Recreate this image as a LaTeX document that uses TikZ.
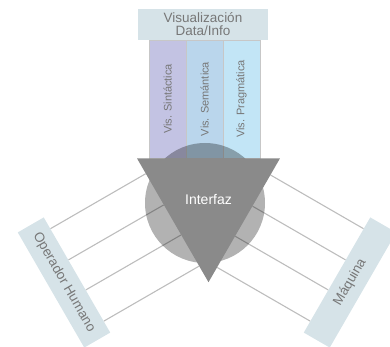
\documentclass[tikz,border=0pt]{standalone}
\usepackage{fontspec}
\setmainfont{Liberation Sans}
\usetikzlibrary{positioning, shapes.geometric, calc, backgrounds}
\definecolor{boxgray}{HTML}{D6E3E8}
\definecolor{sintcol}{HTML}{C3C3E3}
\definecolor{semcol}{HTML}{BAD6EC}
\definecolor{pragcol}{HTML}{C2E5F6}
\definecolor{labelgray}{HTML}{777777}
\definecolor{wiregray}{HTML}{BDBDBD}
\definecolor{trigray}{HTML}{8A8A8A}

\tikzset{
  infobox/.style={rectangle, fill=boxgray, inner sep=0pt, text=labelgray,
    align=center, font=\fontsize{13.5}{13}\selectfont},
  colbox/.style={rectangle, draw=black!22, thin, rotate=90, minimum width=118pt,
    minimum height=37pt, inner sep=0pt, text=labelgray, font=\fontsize{11}{12}\selectfont},
  wire/.style={draw=wiregray, line width=1.1pt}
}

\begin{document}
\begin{tikzpicture}[x=1pt, y=-1pt]
\useasboundingbox (0,0) rectangle (390,347);

% Visualization header and its three columns
\node[infobox, minimum width=130pt, minimum height=31pt] (vis) at (203,24.5)
      {Visualización\\Data/Info};
\node[colbox, fill=sintcol] (sint) at (167.5,99) {Vis. Sintáctica};
\node[colbox, fill=semcol] (sem) at (204.5,99) {Vis. Semántica};
\node[colbox, fill=pragcol] (prag) at (241.5,99) {Vis. Pragmática};

% Interface
\node[circle, fill=black, fill opacity=0.3, minimum size=120pt, inner sep=0pt] (ring) at (205,203) {};
\node[regular polygon, regular polygon sides=3, shape border rotate=180, fill=trigray,
      minimum size=165pt, inner sep=0pt, text=white,
      font=\fontsize{14}{14}\selectfont] (interfaz) at (208.5,199.7) {Interfaz};

% Side boxes
\node[infobox, rotate=-60, minimum width=133pt, minimum height=30pt] (operador) at (64,282.5)
      {Operador Humano};
\node[infobox, rotate=60, minimum width=133pt, minimum height=30pt] (maquina) at (350,282.5)
      {Máquina};

% Links to the interface
\coordinate (o1) at ($(operador.north west)!0.1!(operador.north east)$);
\coordinate (o2) at ($(operador.north west)!0.37!(operador.north east)$);
\coordinate (o3) at ($(operador.north west)!0.63!(operador.north east)$);
\coordinate (o4) at ($(operador.north west)!0.9!(operador.north east)$);
\coordinate (m1) at ($(maquina.north west)!0.1!(maquina.north east)$);
\coordinate (m2) at ($(maquina.north west)!0.37!(maquina.north east)$);
\coordinate (m3) at ($(maquina.north west)!0.63!(maquina.north east)$);
\coordinate (m4) at ($(maquina.north west)!0.9!(maquina.north east)$);
\coordinate (ol1) at ($(interfaz.corner 3)!(o1)!(interfaz.corner 1)$);
\coordinate (ol2) at ($(interfaz.corner 3)!(o2)!(interfaz.corner 1)$);
\coordinate (ol3) at ($(interfaz.corner 3)!(o3)!(interfaz.corner 1)$);
\coordinate (ol4) at ($(interfaz.corner 3)!(o4)!(interfaz.corner 1)$);
\coordinate (ml1) at ($(interfaz.corner 2)!(m1)!(interfaz.corner 1)$);
\coordinate (ml2) at ($(interfaz.corner 2)!(m2)!(interfaz.corner 1)$);
\coordinate (ml3) at ($(interfaz.corner 2)!(m3)!(interfaz.corner 1)$);
\coordinate (ml4) at ($(interfaz.corner 2)!(m4)!(interfaz.corner 1)$);
\begin{scope}[on background layer]
\draw[wire] (o1) -- (ol1);
\draw[wire] (o2) -- (ol2);
\draw[wire] (o3) -- (ol3);
\draw[wire] (o4) -- (ol4);
\draw[wire] (m1) -- (ml1);
\draw[wire] (m2) -- (ml2);
\draw[wire] (m3) -- (ml3);
\draw[wire] (m4) -- (ml4);
\end{scope}

\end{tikzpicture}
\end{document}
